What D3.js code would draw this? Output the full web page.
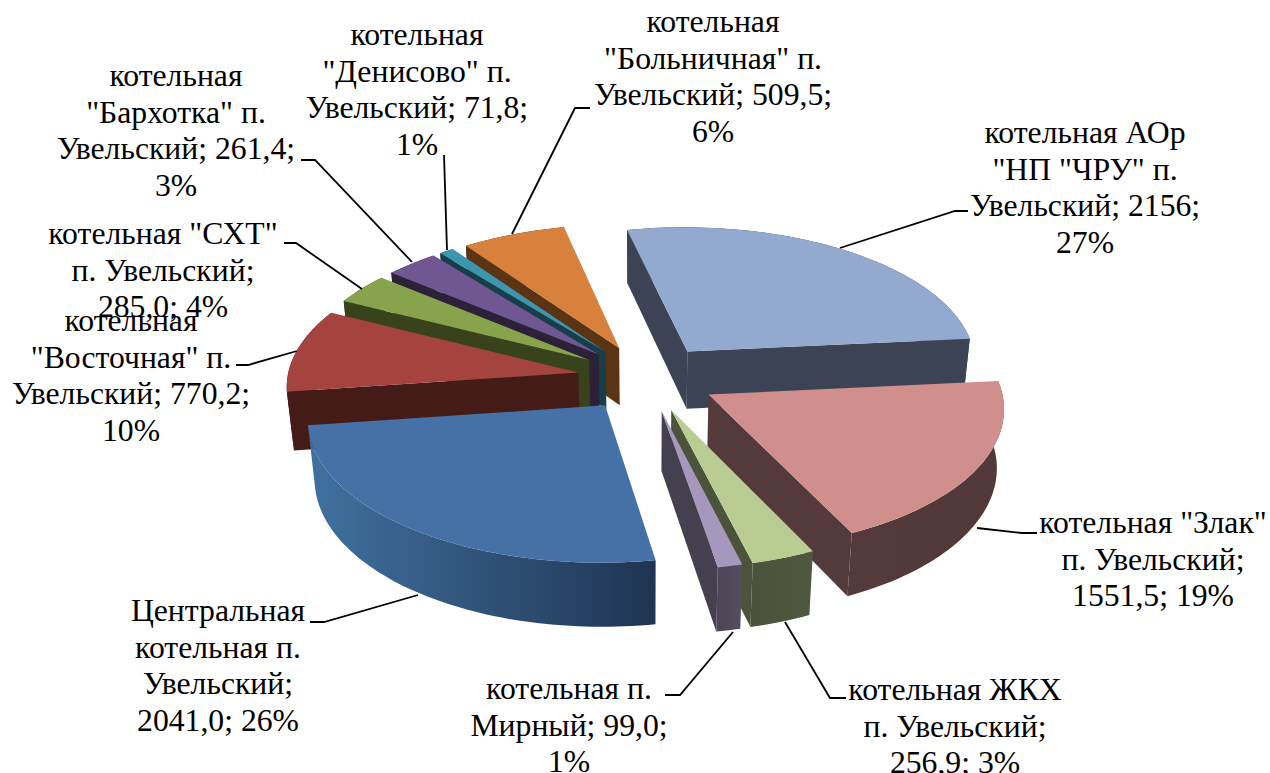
<!DOCTYPE html>
<html>
<head>
<meta charset="utf-8">
<script src="https://cdn.jsdelivr.net/npm/d3@7"></script>
<style>
  html, body { margin: 0; padding: 0; background: #fff; }
  text { font-family: "Liberation Serif", serif; font-size: 31.7px; fill: #000; }
</style>
</head>
<body>
<div id="chart"></div>
<script>
// values, clockwise from the first slice
const categories = ["АОр НП ЧРУ", "Злак", "ЖКХ", "Мирный", "Центральная", "Восточная", "СХТ", "Бархотка", "Денисово", "Больничная"];
const values = [2156, 1551.5, 256.9, 99, 2041, 770.2, 285, 261.4, 71.8, 509.5];
const labels = [
  ["котельная АОр", "\"НП \"ЧРУ\" п.", "Увельский; 2156;", "27%"],
  ["котельная \"Злак\"", "п. Увельский;", "1551,5; 19%"],
  ["котельная ЖКХ", "п. Увельский;", "256,9; 3%"],
  ["котельная п.", "Мирный; 99,0;", "1%"],
  ["Центральная", "котельная п.", "Увельский;", "2041,0; 26%"],
  ["котельная", "\"Восточная\" п.", "Увельский; 770,2;", "10%"],
  ["котельная \"СХТ\"", "п. Увельский;", "285,0; 4%"],
  ["котельная", "\"Бархотка\" п.", "Увельский; 261,4;", "3%"],
  ["котельная", "\"Денисово\" п.", "Увельский; 71,8;", "1%"],
  ["котельная", "\"Больничная\" п.", "Увельский; 509,5;", "6%"]
];
const topColors = ["#93a9cf", "#d08e8c", "#b9cd93", "#a697bd", "#4571a6", "#a5433f", "#87a34c", "#715792", "#3c96af", "#d8813c"];
const sideColors = ["#3b4355", "#543a3b", "#4b543b", "#44404f", "#1f3452", "#451b18", "#38421b", "#2c2139", "#173f4b", "#5a3415"];
const wallLight = ["#3b4355", "#553a3b", "#4a533a", "#4e4557", "#40709f", "#451b18", "#38421b", "#2c2139", "#173f4b", "#5a3415"];
const wallDark = ["#3b4355", "#523839", "#4f583e", "#564c5f", "#1f3452", "#451b18", "#38421b", "#2c2139", "#173f4b", "#5a3415"];

// label placement: centre x and first baseline
const labelX = [1085, 1153, 955, 569, 218, 131, 163, 176, 417, 713];
const labelY = [143, 533, 700, 699, 621, 331, 244, 86, 45, 32];
const lineStep = 36.6;
// leader lines in page pixels
const leaders = [
  [[840, 248], [955, 211], [968, 211]],
  [[977, 528], [1022, 533], [1037, 533]],
  [[785, 622], [830, 698], [846, 698]],
  [[733, 632], [680, 695], [665, 695]],
  [[418, 595], [324, 622], [310, 622]],
  [[297, 351], [248, 365], [236, 365]],
  [[362, 289], [296, 243], [284, 243]],
  [[412, 262], [315, 160], [301, 160]],
  [[447, 250], [444, 155]],
  [[512, 234], [575, 108], [590, 108]]
];

const width = 1270, height = 773;
const startDeg = -12.5, explode = 0.24;
const perspective = 0.085, lift = 0.02;

const xScale = d3.scaleLinear().domain([-1, 1]).range([647 - 291, 647 + 291]);
const yScale = d3.scaleLinear().domain([-1, 1]).range([378 + 139, 378 - 139]);
const zScale = d3.scaleLinear().domain([-1, 0]).range([60, 0]);

const svg = d3.select("#chart").append("svg")
  .attr("width", width)
  .attr("height", height);
const defs = svg.append("defs");

// world point (unit radius) to the page
function project(X, Y, Z) {
  const s = 1 / (1 + perspective * Y - lift * Z);
  return [
    xScale(0) + (xScale(X) - xScale(0)) * s,
    yScale(0) + (yScale(Y) - yScale(0)) * s + zScale(Z) * Math.pow(s, 1.5)
  ];
}

const pie = d3.pie().sort(null)
  .startAngle(startDeg * Math.PI / 180)
  .endAngle((startDeg + 360) * Math.PI / 180);
const arcs = pie(values).map(function(a, i) {
  const mid = (a.startAngle + a.endAngle) / 2;
  return {
    i: i,
    a0: a.startAngle,
    a1: a.endAngle,
    ox: explode * Math.sin(mid),
    oy: explode * Math.cos(mid),
    depth: Math.cos(mid)
  };
});

const line = d3.line();

function rim(d, Z) {
  const n = Math.max(4, Math.ceil((d.a1 - d.a0) * 40));
  return d3.range(n + 1).map(function(k) {
    const t = d.a0 + (d.a1 - d.a0) * k / n;
    return project(d.ox + Math.sin(t), d.oy + Math.cos(t), Z);
  });
}

function signedArea(pts) {
  let sum = 0;
  pts.forEach(function(p, k) {
    const q = pts[(k + 1) % pts.length];
    sum += p[0] * q[1] - q[0] * p[1];
  });
  return sum;
}

// far slices first so the near ones paint over them
const order = arcs.slice().sort((a, b) => d3.descending(a.depth, b.depth));

order.forEach(function(d) {
  const g = svg.append("g").attr("class", "slice").datum(d);
  const up = rim(d, 0), down = rim(d, -1);
  const apexUp = project(d.ox, d.oy, 0), apexDown = project(d.ox, d.oy, -1);

  // outer wall
  const gradId = "wall" + d.i;
  const grad = defs.append("linearGradient").attr("id", gradId)
    .attr("gradientUnits", "userSpaceOnUse")
    .attr("x1", d3.min(down, p => p[0])).attr("x2", d3.max(down, p => p[0]))
    .attr("y1", 0).attr("y2", 0);
  grad.append("stop").attr("offset", 0).attr("stop-color", wallLight[d.i]);
  grad.append("stop").attr("offset", 1).attr("stop-color", wallDark[d.i]);
  g.append("path")
    .attr("d", line(up.concat(down.slice().reverse())) + "Z")
    .attr("fill", "url(#" + gradId + ")");

  // the two cut walls, only when they face the viewer
  const walls = [
    [apexUp, up[0], down[0], apexDown],
    [up[up.length - 1], apexUp, apexDown, down[down.length - 1]]
  ];
  walls.forEach(function(w) {
    if (signedArea(w) < 0) {
      g.append("path")
        .attr("d", line(w) + "Z")
        .attr("fill", sideColors[d.i]);
    }
  });

  // top face
  g.append("path")
    .attr("d", line([apexUp].concat(up)) + "Z")
    .attr("fill", topColors[d.i]);
});

svg.append("g").selectAll("path")
  .data(leaders)
  .join("path")
  .attr("d", d => line(d))
  .attr("fill", "none")
  .attr("stroke", "#000")
  .attr("stroke-width", 1.8);

const labelGroups = svg.append("g").selectAll("text")
  .data(labels)
  .join("text")
  .attr("text-anchor", "middle")
  .attr("transform", (d, i) => "translate(" + labelX[i] + "," + labelY[i] + ")");
labelGroups.selectAll("tspan")
  .data(d => d)
  .join("tspan")
  .attr("x", 0)
  .attr("y", (d, k) => k * lineStep)
  .text(d => d);
</script>
</body>
</html>
